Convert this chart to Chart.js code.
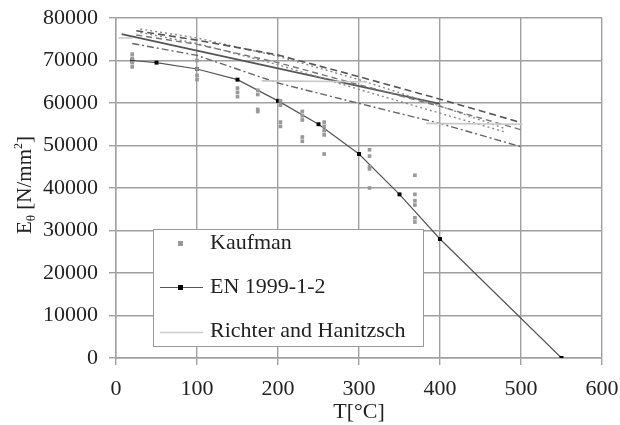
<!DOCTYPE html>
<html>
<head>
<meta charset="utf-8">
<script src="https://cdn.jsdelivr.net/npm/chart.js@4/dist/chart.umd.min.js"></script>
<style>
  html, body { margin: 0; padding: 0; background: #fff; }
  #graph { display: block; }
</style>
</head>
<body>
<canvas id="graph" width="620" height="425"></canvas>
<script>
// --- Kaufman ---
var kaufmanT = [20, 20, 20, 20, 100, 100, 100, 100, 150, 150, 150,
  175, 175, 175, 175, 203, 203, 203, 203, 230, 230, 230, 230, 230,
  257, 257, 257, 257, 257, 313, 313, 313, 313, 313, 369, 369, 369, 369, 369, 369];
var kaufmanE = [71500, 70500, 69500, 68500, 70000, 68000, 66500, 65500, 63500, 62500, 61500,
  63000, 62000, 58500, 58000, 60500, 59500, 55500, 54500, 58000, 57000, 56000, 52000, 51000,
  55500, 54500, 53500, 52500, 48000, 49000, 47500, 45000, 44500, 40000, 43000, 38500, 37000, 36000, 33000, 32000];

// --- EN 1999-1-2 ---
var enT = [20, 50, 100, 150, 200, 250, 300, 350, 400, 550];
var enE = [70000, 69500, 68000, 65500, 60500, 55000, 48000, 38500, 28000, 0];

// --- Richter and Hanitzsch (segments gris clair) ---
var rhT = [3, 20, null, 180, 310, null, 383, 502];
var rhE = [75300, 75300, null, 65200, 65000, null, 55200, 55000];

// --- autres courbes (sans légende) ---
var solidT = [7, 400];
var solidE = [76200, 59800];
var dash1T = [25, 100, 200, 300, 400, 500];
var dash1E = [77000, 74800, 71300, 66200, 60900, 55400];
var dash2T = [25, 100, 200, 300, 400, 500];
var dash2E = [76000, 73800, 69500, 64300, 59200, 53700];
var dot1T = [30, 100, 200, 300, 400, 480];
var dot1E = [77400, 75300, 71000, 65500, 59300, 54000];
var dot2T = [30, 100, 200, 300, 400, 480];
var dot2E = [76600, 74000, 69000, 63200, 57600, 53200];
var ddT = [20, 100, 200, 300, 400, 500];
var ddE = [74000, 71200, 64700, 59900, 55200, 49700];

var xTicks = [0, 100, 200, 300, 400, 500, 600];
var yTicks = [0, 10000, 20000, 30000, 40000, 50000, 60000, 70000, 80000];

function pts(xs, ys) {
  return xs.map(function (x, i) {
    return x === null ? { x: null, y: null } : { x: x, y: ys[i] };
  });
}

function ligne(xs, ys, color, dash, width) {
  return {
    data: pts(xs, ys),
    showLine: true,
    borderColor: color,
    borderWidth: width || 1.4,
    borderDash: dash,
    pointRadius: 0,
    spanGaps: false,
    fill: false
  };
}

var police = "'Liberation Serif', 'Times New Roman', serif";
var gris = "#222";

// titre axe y avec indice + exposant, et légende dans le graphe
var dessin = {
  id: "dessin",
  afterDraw: function (chart) {
    var c = chart.ctx;
    // titre y
    c.save();
    c.translate(24, 185);
    c.rotate(-Math.PI / 2);
    c.fillStyle = gris;
    c.textBaseline = "alphabetic";
    var parts = [
      { t: "E", f: "21px", dy: 0 },
      { t: "\u03B8", f: "13px", dy: 4 },
      { t: " [N/mm", f: "21px", dy: 0 },
      { t: "2", f: "12px", dy: -9 },
      { t: "]", f: "21px", dy: 0 }
    ];
    var total = 0;
    parts.forEach(function (p) { c.font = p.f + " " + police; total += c.measureText(p.t).width; });
    var x = -total / 2;
    parts.forEach(function (p) {
      c.font = p.f + " " + police;
      c.fillText(p.t, x, 7 + p.dy);
      x += c.measureText(p.t).width;
    });
    c.restore();

    // légende
    c.save();
    var bx = 153, by = 229, bw = 270, bh = 117;
    c.fillStyle = "#fff";
    c.fillRect(bx, by, bw, bh);
    c.strokeStyle = "#999";
    c.lineWidth = 1;
    c.strokeRect(bx + 0.5, by + 0.5, bw, bh);
    c.font = "22px " + police;
    c.fillStyle = gris;
    c.textBaseline = "middle";
    c.fillText("Kaufman", 210, 243);
    c.fillText("EN 1999-1-2", 210, 287);
    c.fillText("Richter and Hanitzsch", 210, 331);
    // échantillons
    c.fillStyle = "#999";
    c.fillRect(178, 241, 5, 5);
    c.strokeStyle = "#555";
    c.lineWidth = 1.2;
    c.beginPath(); c.moveTo(160, 287.5); c.lineTo(203, 287.5); c.stroke();
    c.fillStyle = "#000";
    c.fillRect(178, 285, 5, 5);
    c.strokeStyle = "#ccc";
    c.lineWidth = 1.4;
    c.beginPath(); c.moveTo(160, 332.5); c.lineTo(203, 332.5); c.stroke();
    c.restore();
  }
};

var ctx = document.getElementById("graph");
var graph = new Chart(ctx, {
  type: "scatter",
  data: {
    datasets: [
      ligne(rhT, rhE, "#c8c8c8", [], 1.6),
      ligne(dash1T, dash1E, "#555", [7, 4], 1.6),
      ligne(dash2T, dash2E, "#777", [6, 4], 1.4),
      ligne(dot1T, dot1E, "#888", [2, 3], 1.4),
      ligne(dot2T, dot2E, "#888", [2, 3], 1.4),
      ligne(ddT, ddE, "#666", [7, 3, 2, 3], 1.4),
      ligne(solidT, solidE, "#555", [], 1.6),
      {
        data: pts(kaufmanT, kaufmanE),
        pointStyle: "rect",
        pointRadius: 2.6,
        pointBackgroundColor: "#999",
        pointBorderWidth: 0,
        showLine: false
      },
      {
        data: pts(enT, enE),
        showLine: true,
        borderColor: "#555",
        borderWidth: 1.2,
        pointStyle: "rect",
        pointRadius: 2.8,
        pointBackgroundColor: "#000",
        pointBorderWidth: 0
      }
    ]
  },
  options: {
    responsive: false,
    animation: false,
    layout: { padding: { top: 18, right: 18, left: 0, bottom: 0 } },
    plugins: {
      legend: { display: false },
      tooltip: { enabled: false }
    },
    scales: {
      x: {
        type: "linear",
        min: 0,
        max: 600,
        afterBuildTicks: function (s) { s.ticks = xTicks.map(function (v) { return { value: v }; }); },
        afterFit: function (s) { s.height = 67; s.paddingLeft = 0; s.paddingRight = 0; },
        grid: { color: "#a0a0a0", lineWidth: 1.4, tickLength: 7 },
        border: { color: "#a0a0a0", width: 1.4 },
        ticks: {
          padding: 11,
          color: gris,
          font: { family: police, size: 22 },
          callback: function (v) { return String(v); }
        },
        title: { display: true, text: "T[°C]", color: gris, padding: { top: -6, bottom: 0 }, font: { family: police, size: 22 } }
      },
      y: {
        type: "linear",
        min: 0,
        max: 80000,
        afterBuildTicks: function (s) { s.ticks = yTicks.map(function (v) { return { value: v }; }); },
        afterFit: function (s) { s.width = 116; s.paddingTop = 0; s.paddingBottom = 0; },
        grid: { color: "#a0a0a0", lineWidth: 1.4, tickLength: 7 },
        border: { color: "#a0a0a0", width: 1.4 },
        ticks: {
          padding: 11,
          color: gris,
          font: { family: police, size: 22 },
          callback: function (v) { return String(v); }
        }
      }
    }
  },
  plugins: [dessin]
});
</script>
</body>
</html>
